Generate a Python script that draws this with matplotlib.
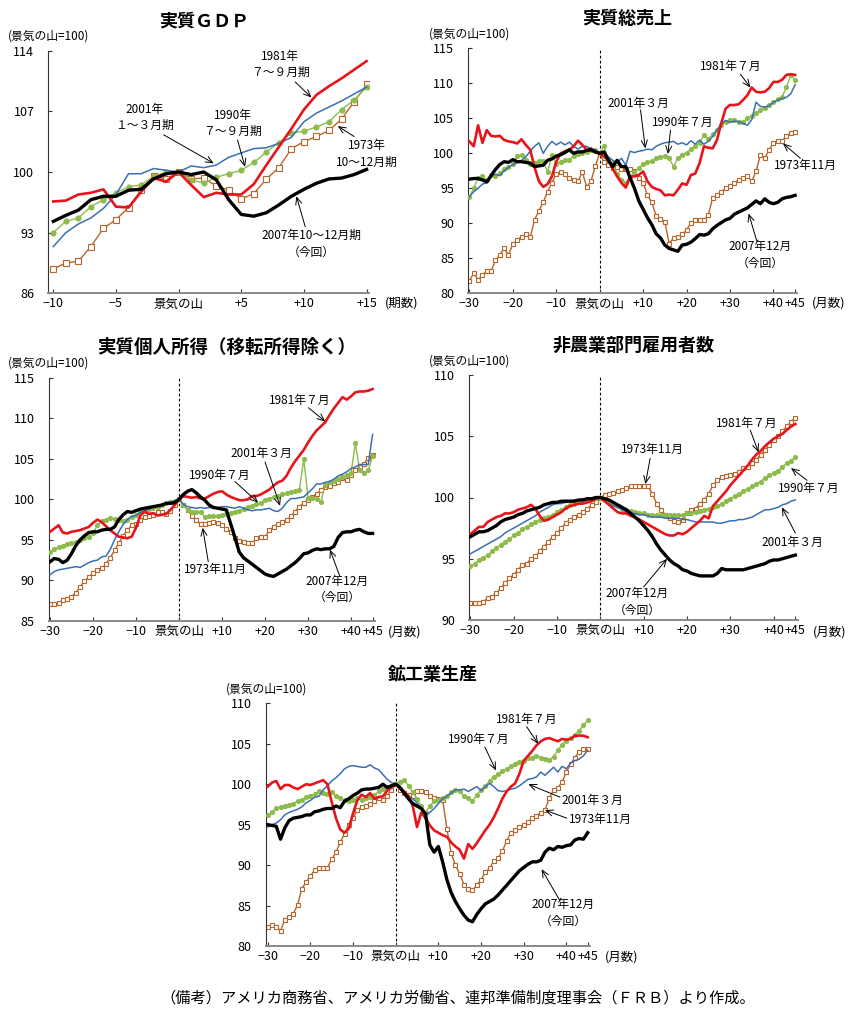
import matplotlib
matplotlib.use('Agg')
import matplotlib.pyplot as plt

plt.rcParams['font.family'] = ['Noto Sans CJK JP', 'DejaVu Sans']

# x axes: quarters for GDP, months for the rest (0 = business cycle peak)
quarters = list(range(-10, 16))
months = list(range(-30, 46))

# ---- real GDP (quarterly, peak = 100)
gdp_2007 = [94.3, 95.0, 95.6, 96.8, 97.2, 97.2, 97.9, 98.0, 99.2, 99.8, 100.0, 99.7, 100.0,
            99.1, 96.8, 95.1, 94.9, 95.3, 96.2, 97.2, 98.0, 98.7, 99.2, 99.3, 99.7, 100.3]
gdp_1981 = [96.6, 96.7, 97.4, 97.6, 98.0, 96.0, 95.9, 97.7, 99.3, 98.9, 100.0, 98.5, 97.1,
            97.6, 97.4, 97.4, 98.6, 100.8, 102.9, 105.0, 107.2, 108.9, 109.9, 110.8, 111.8, 112.8]
gdp_2001 = [91.4, 93.0, 94.0, 94.7, 95.8, 97.4, 99.8, 99.8, 100.4, 100.2, 100.0, 100.7, 100.5,
            100.8, 101.7, 102.2, 102.7, 102.8, 103.3, 104.0, 105.8, 106.8, 107.5, 108.2, 109.0, 109.8]
gdp_1990 = [93.0, 94.3, 94.7, 96.0, 96.8, 97.6, 98.3, 98.5, 99.5, 100.0, 100.0, 99.1, 98.7,
            99.4, 99.8, 100.2, 101.1, 102.3, 103.4, 104.5, 104.7, 105.2, 105.8, 107.2, 108.3, 109.8]
gdp_1973 = [88.8, 89.5, 89.7, 91.4, 93.5, 94.5, 95.9, 97.9, 99.5, 99.2, 100.0, 99.2, 99.3,
            98.4, 97.9, 96.9, 97.5, 99.2, 100.5, 102.7, 103.5, 104.1, 104.8, 106.1, 108.1, 110.1]

# ---- real total sales (monthly)
sales_2007 = [96.3, 96.4, 96.4, 96.2, 95.9, 96.8, 97.7, 98.4, 98.8, 98.7,
              99.1, 98.8, 98.8, 98.7, 98.6, 98.1, 98.2, 98.3, 99.0, 99.2,
              99.6, 99.8, 100.1, 100.5, 100.0, 100.2, 100.2, 100.4, 100.5, 100.2,
              100.0, 100.2, 99.0, 98.1, 99.0, 98.1, 98.1, 96.5, 95.0, 93.2,
              92.0, 90.8, 89.8, 88.5, 87.9, 86.9, 86.4, 86.2, 86.0, 86.9,
              87.0, 87.3, 87.8, 88.4, 88.3, 88.5, 89.2, 89.7, 90.1, 90.5,
              90.7, 91.3, 91.6, 91.9, 92.2, 92.7, 93.2, 92.8, 93.5, 93.0,
              92.8, 93.0, 93.5, 93.7, 93.8, 94.0]
sales_1981 = [101.7, 101.0, 104.0, 101.5, 103.3, 102.5, 102.4, 102.5, 101.9, 101.7,
              101.6, 101.4, 102.0, 101.2, 100.5, 98.0, 96.0, 95.2, 95.6, 96.7,
              98.8, 100.0, 100.3, 100.5, 101.0, 101.8, 101.2, 100.5, 100.7, 100.1,
              100.0, 99.5, 99.0, 97.8, 96.7, 95.8, 95.1, 96.7, 96.7, 96.9,
              97.4, 96.0, 95.2, 94.9, 94.7, 94.0, 94.1, 94.0, 94.8, 95.7,
              95.5, 96.9, 97.1, 98.6, 101.0, 100.8, 100.7, 101.9, 104.3, 106.4,
              106.9, 106.9, 107.0, 107.6, 108.3, 109.4, 108.8, 108.7, 108.8, 109.3,
              110.2, 110.2, 110.5, 111.2, 111.3, 111.2]
sales_2001 = [93.8, 94.5, 95.0, 95.6, 95.8, 96.8, 97.0, 96.8, 97.5, 98.0,
              98.4, 98.7, 99.0, 99.5, 100.3, 101.0, 101.5, 100.0, 101.0, 101.7,
              101.2, 101.6, 101.2, 101.6, 101.0, 100.6, 101.0, 101.0, 100.6, 100.5,
              100.0, 100.0, 99.5, 99.0, 98.6, 99.3, 98.3, 100.3, 100.1, 100.3,
              100.4, 100.6, 100.5, 101.0, 101.3, 101.5, 101.6, 101.7, 101.3, 101.5,
              101.2, 101.8, 101.3, 101.9, 101.3, 101.7, 102.4, 103.3, 104.2, 104.7,
              104.4, 104.6, 104.5, 104.3, 104.0, 104.8, 107.3, 106.7, 106.6, 106.8,
              107.3, 107.6, 107.8, 108.0, 108.5, 109.8]
sales_1990 = [93.8, 95.0, 96.5, 96.7, 96.2, 96.9, 96.8, 97.2, 97.7, 98.0,
              98.4, 99.6, 99.8, 99.0, 98.5, 98.6, 98.9, 98.9, 97.3, 99.7,
              98.5, 98.8, 99.0, 99.1, 99.6, 99.9, 100.0, 100.2, 100.5, 100.5,
              100.0, 101.0, 99.0, 98.6, 97.1, 96.2, 95.8, 96.6, 97.3, 97.9,
              98.5, 98.7, 98.9, 99.3, 99.5, 99.6, 99.3, 98.1, 99.3, 99.8,
              100.1, 100.6, 101.0, 101.5, 102.6, 102.1, 102.7, 103.3, 104.0, 104.5,
              104.8, 104.8, 104.5, 104.4, 105.0, 105.3, 105.7, 106.2, 106.5, 106.9,
              107.3, 107.7, 108.1, 109.4, 111.2, 110.5]
sales_1973 = [81.8, 82.9, 81.9, 82.6, 83.2, 83.2, 84.7, 85.5, 86.4, 85.5,
              87.0, 87.6, 88.1, 88.4, 88.0, 90.5, 91.8, 93.0, 94.5, 95.8,
              97.1, 97.3, 97.0, 96.4, 96.2, 96.0, 97.3, 95.2, 96.0, 98.2,
              100.0, 98.7, 98.3, 97.9, 98.0, 97.8, 97.8, 97.7, 97.5, 96.5,
              95.8, 94.0, 93.0, 91.0, 90.6, 90.2, 87.1, 87.9, 88.0, 88.5,
              89.0, 90.1, 90.4, 90.5, 90.4, 91.2, 93.6, 94.0, 94.5, 95.0,
              95.3, 95.8, 96.2, 96.5, 96.8, 96.0, 97.4, 99.8, 99.3, 100.5,
              101.5, 101.7, 101.7, 102.5, 102.9, 103.1]

# ---- real personal income excl. transfers (monthly)
income_2007 = [92.3, 92.7, 92.6, 92.2, 92.5, 93.3, 94.3, 95.0, 95.5, 95.9,
               96.0, 96.0, 96.2, 96.3, 96.3, 96.6, 97.5, 98.1, 98.5, 98.4,
               98.6, 98.8, 98.9, 99.0, 99.1, 99.2, 99.3, 99.5, 99.5, 99.6,
               100.0, 100.6, 101.0, 101.2, 100.8, 100.3, 99.9, 99.3, 99.0, 98.9,
               98.8, 98.7, 97.0, 95.3, 93.5, 92.8, 92.4, 92.0, 91.6, 91.2,
               90.8, 90.6, 90.5, 90.8, 91.1, 91.4, 91.8, 92.2, 92.7, 93.3,
               93.4, 93.7, 93.9, 93.8, 93.9, 93.9, 94.2, 95.3, 95.9, 96.0,
               96.0, 96.2, 96.3, 96.0, 95.8, 95.8]
income_1981 = [96.0, 96.4, 96.8, 95.9, 95.8, 96.0, 96.1, 96.2, 96.4, 96.6,
               97.1, 97.5, 97.2, 96.7, 96.2, 95.8, 95.4, 95.3, 95.2, 95.4,
               96.5, 98.0, 98.5, 98.2, 98.3, 98.0, 98.1, 98.2, 98.7, 99.3,
               100.0, 100.4, 100.3, 100.2, 100.3, 100.1, 100.1, 100.4, 100.7, 100.9,
               101.0, 100.6, 100.3, 100.1, 99.9, 99.9, 100.0, 100.4, 100.4, 100.6,
               100.9, 101.2, 101.7, 102.1, 102.3, 102.9, 103.9, 104.7, 105.4, 106.1,
               107.0, 107.8, 108.5, 109.0, 109.5, 110.4, 111.2, 111.9, 112.6, 112.3,
               112.7, 113.2, 113.3, 113.3, 113.4, 113.6]
income_2001 = [90.7, 91.1, 91.3, 91.4, 91.5, 91.6, 91.7, 91.6, 91.9, 92.2,
               92.4, 92.5, 92.9, 93.0, 93.8, 95.0, 96.0, 96.9, 97.5, 97.9,
               98.0, 98.4, 98.6, 98.8, 99.0, 99.2, 99.3, 99.5, 99.7, 99.8,
               100.0, 99.4, 99.1, 99.0, 98.9, 99.0, 98.9, 99.0, 98.9, 99.0,
               99.1, 99.1, 99.0, 98.9, 99.1, 98.9, 98.7, 98.6, 98.7, 98.7,
               98.8, 98.9, 98.6, 98.5, 98.9, 99.6, 100.1, 100.1, 100.2, 100.3,
               100.8, 101.3, 101.9, 101.9, 102.1, 102.2, 102.5, 102.9, 103.1, 103.4,
               103.8, 104.0, 104.3, 104.3, 104.3, 108.0]
income_1990 = [93.5, 93.9, 94.1, 94.3, 94.5, 94.6, 94.8, 95.0, 95.2, 95.4,
               95.8, 96.8, 97.3, 97.5, 97.7, 97.6, 97.4, 97.3, 97.5, 97.8,
               98.1, 98.4, 98.6, 98.8, 98.9, 99.1, 99.3, 99.6, 99.7, 99.8,
               100.0, 99.3, 98.7, 98.4, 98.5, 98.4, 97.8, 97.9, 97.9, 98.0,
               98.1, 98.2, 98.3, 98.5, 98.6, 98.8, 99.0, 99.2, 99.4, 99.6,
               99.9, 100.1, 100.3, 100.4, 100.6, 100.8, 100.9, 101.0, 101.2, 105.0,
               100.2, 100.2, 100.0, 99.7, 101.8, 102.1, 102.3, 102.5, 102.8, 103.0,
               103.3, 106.9, 103.6, 103.3, 103.6, 105.3]
income_1973 = [87.1, 87.1, 87.2, 87.6, 87.7, 88.0, 88.5, 89.2, 89.9, 90.4,
               90.9, 91.3, 91.5, 92.0, 92.8, 93.7, 94.6, 95.5, 96.2, 96.8,
               97.0, 97.5, 97.8, 98.0, 98.1, 98.4, 98.5, 98.2, 98.6, 99.3,
               100.0, 99.3, 98.7, 98.0, 97.5, 96.9, 97.0, 97.1, 97.2, 97.1,
               96.8, 96.4, 96.0, 95.2, 94.9, 94.7, 94.6, 94.6, 95.2, 95.3,
               95.3, 96.2, 96.6, 97.0, 97.2, 97.4, 97.9, 98.5, 99.1, 99.6,
               99.9, 100.3, 100.7, 101.1, 101.5, 101.6, 102.0, 102.2, 102.6, 102.4,
               103.0, 103.6, 104.0, 104.4, 105.1, 105.5]

# ---- nonfarm payroll employment (monthly)
emp_2007 = [96.8, 97.0, 97.2, 97.2, 97.3, 97.5, 97.7, 98.0, 98.2, 98.3,
            98.4, 98.6, 98.7, 98.9, 99.0, 99.1, 99.2, 99.4, 99.5, 99.6,
            99.6, 99.7, 99.7, 99.7, 99.7, 99.8, 99.8, 99.9, 99.9, 100.0,
            100.0, 99.9, 99.8, 99.6, 99.4, 99.2, 99.0, 98.7, 98.4, 98.1,
            97.7, 97.3, 96.8, 96.2, 95.7, 95.3, 94.9, 94.6, 94.4, 94.1,
            94.0, 93.8, 93.7, 93.6, 93.6, 93.6, 93.6, 93.8, 94.2, 94.1,
            94.1, 94.1, 94.1, 94.1, 94.2, 94.3, 94.4, 94.5, 94.6, 94.8,
            94.9, 94.9, 95.0, 95.1, 95.2, 95.3]
emp_1981 = [97.0, 97.3, 97.6, 97.6, 98.0, 98.2, 98.4, 98.5, 98.7, 98.7,
            98.8, 99.0, 99.1, 99.2, 99.4, 99.1, 98.5, 98.1, 98.2, 98.4,
            98.6, 98.8, 99.1, 99.3, 99.4, 99.5, 99.5, 99.6, 99.7, 99.9,
            100.0, 99.7, 99.4, 99.1, 98.8, 98.7, 98.7, 98.5, 98.4, 98.2,
            98.0, 97.8, 97.6, 97.4, 97.2, 97.0, 96.9, 96.9, 97.1, 97.0,
            97.2, 97.5, 97.8, 98.1, 98.5, 98.3, 99.3, 99.7, 100.1, 100.5,
            101.0, 101.4, 101.8, 102.2, 102.6, 103.1, 103.5, 103.8, 104.2, 104.5,
            104.8, 105.0, 105.2, 105.5, 105.8, 106.0]
emp_2001 = [95.4, 95.6, 95.8, 96.0, 96.2, 96.4, 96.6, 96.8, 97.1, 97.3,
            97.5, 97.7, 97.9, 98.1, 98.3, 98.5, 98.8, 99.0, 99.2, 99.4,
            99.5, 99.5, 99.6, 99.7, 99.8, 99.8, 99.9, 99.9, 99.9, 100.0,
            100.0, 99.7, 99.5, 99.3, 99.2, 99.0, 98.8, 98.7, 98.7, 98.6,
            98.6, 98.5, 98.4, 98.4, 98.4, 98.3, 98.3, 98.3, 98.3, 98.2,
            98.2, 98.1, 98.0, 98.0, 98.0, 98.0, 98.0, 97.9, 97.9, 98.0,
            98.1, 98.1, 98.2, 98.2, 98.3, 98.4, 98.6, 98.8, 99.0, 99.0,
            99.1, 99.2, 99.4, 99.5, 99.7, 99.8]
emp_1990 = [94.4, 94.6, 94.9, 95.1, 95.3, 95.6, 95.9, 96.1, 96.4, 96.6,
            96.9, 97.1, 97.4, 97.6, 97.8, 98.0, 98.2, 98.3, 98.4, 98.6,
            98.8, 99.0, 99.2, 99.4, 99.5, 99.7, 99.8, 99.9, 99.9, 100.0,
            100.0, 99.8, 99.7, 99.5, 99.3, 99.1, 99.0, 98.9, 98.8, 98.7,
            98.7, 98.6, 98.6, 98.6, 98.6, 98.6, 98.6, 98.6, 98.6, 98.6,
            98.7, 98.7, 98.8, 98.9, 99.0, 99.1, 99.2, 99.3, 99.5, 99.7,
            99.9, 100.1, 100.3, 100.5, 100.7, 100.9, 101.1, 101.3, 101.6, 101.8,
            102.0, 102.2, 102.5, 102.8, 103.0, 103.3]
emp_1973 = [91.35, 91.4, 91.4, 91.5, 91.8, 91.9, 92.2, 92.6, 93.0, 93.4,
            93.7, 94.1, 94.5, 94.6, 95.0, 95.2, 95.6, 96.0, 96.4, 96.8,
            97.1, 97.5, 97.9, 98.2, 98.4, 98.6, 98.8, 99.1, 99.4, 99.6,
            100.0, 100.2, 100.3, 100.4, 100.5, 100.6, 100.75, 100.9, 100.95, 100.95,
            100.95, 100.9, 100.3, 99.5, 99.0, 98.6, 98.3, 98.1, 98.0, 98.2,
            98.7, 99.0, 99.1, 99.5, 99.8, 100.3, 101.0, 101.4, 101.7, 101.75,
            101.8, 101.9, 102.1, 102.4, 102.5, 102.8, 103.1, 103.5, 103.9, 104.3,
            104.7, 105.0, 105.4, 105.8, 106.2, 106.5]

# ---- industrial production (monthly)
ip_2007 = [95.0, 94.9, 94.8, 93.2, 94.6, 95.5, 95.8, 95.9, 96.0, 96.2,
           96.2, 96.6, 96.7, 96.9, 97.0, 97.0, 97.3, 97.1, 97.9, 98.2,
           98.6, 98.9, 99.3, 99.4, 99.4, 99.5, 99.6, 100.0, 99.6, 99.8,
           100.0, 99.6, 98.9, 98.2, 97.6, 97.3, 97.0, 96.3, 92.5, 91.6,
           92.3, 90.4, 88.2, 86.6, 85.5, 84.6, 83.8, 83.2, 83.0, 83.9,
           84.6, 85.2, 85.5, 85.8, 86.3, 86.9, 87.5, 88.1, 88.7, 89.3,
           89.7, 90.1, 90.4, 90.4, 90.6, 91.6, 92.1, 91.9, 92.3, 92.2,
           92.4, 92.5, 93.1, 93.3, 93.2, 94.0]
ip_1981 = [99.7, 100.2, 100.4, 99.4, 99.9, 99.9, 99.6, 99.4, 99.7, 100.0,
           99.9, 100.1, 100.3, 100.5, 100.0, 97.8, 95.8, 94.4, 94.0, 94.5,
           96.4, 98.0, 98.7, 98.4, 98.9, 98.2, 98.4, 98.5, 99.2, 99.6,
           100.0, 99.5, 99.1, 98.5, 97.3, 94.7, 96.5, 95.8, 94.9, 94.3,
           94.0, 93.7, 93.5, 92.8, 92.3, 91.9, 90.8, 92.6, 92.0, 92.7,
           93.5, 94.3, 95.0, 95.9, 97.0, 98.2, 99.1, 99.7, 100.1, 101.3,
           102.9, 103.5, 104.1, 104.8, 105.3, 105.6, 105.7, 105.5, 105.3, 105.6,
           105.5, 105.6, 106.0, 106.0, 106.0, 105.8]
ip_2001 = [94.7, 95.0, 95.2, 95.6, 96.2, 96.5, 96.7, 96.9, 97.2, 97.7,
           98.0, 98.4, 98.5, 99.3, 99.8, 100.4, 100.8, 101.3, 101.9, 102.2,
           102.3, 102.2, 102.1, 102.1, 102.4, 102.0, 101.8, 101.2, 100.6, 100.2,
           100.0, 99.4, 99.0, 98.6, 98.2, 97.7, 97.0, 96.3, 96.5, 97.0,
           97.6, 98.2, 98.5, 98.9, 99.3, 99.3, 99.4, 99.1, 99.4, 99.7,
           99.2, 99.7, 100.1, 99.7, 99.2, 99.1, 99.2, 99.4, 99.5, 99.8,
           100.2, 100.6, 100.7, 100.9, 101.5, 101.1, 101.6, 102.1, 101.5, 102.2,
           101.9, 102.6, 102.9, 103.1, 103.5, 104.2]
ip_1990 = [96.2, 96.6, 97.0, 97.2, 97.3, 97.4, 97.6, 97.9, 98.1, 98.4,
           98.6, 98.8, 99.1, 98.9, 98.8, 99.0, 98.5, 98.3, 98.0, 97.9,
           98.1, 98.3, 98.1, 98.3, 98.4, 98.7, 99.1, 99.4, 99.6, 99.8,
           100.0, 100.3, 100.5, 99.8, 99.0, 98.2, 97.3, 96.5, 97.3, 97.9,
           98.1, 98.3, 98.6, 99.0, 99.3, 99.1, 98.6, 98.3, 97.9, 98.7,
           99.3, 99.8, 100.4, 100.9, 101.2, 101.6, 101.9, 102.2, 102.5, 102.8,
           102.9, 103.2, 103.3, 103.5, 103.3, 103.1, 103.0, 103.4, 104.2, 104.9,
           105.4, 105.7, 106.1, 106.6, 107.3, 107.9]
ip_1973 = [82.3, 82.6, 82.4, 81.9, 83.2, 83.6, 84.0, 85.1, 87.1, 87.9,
           88.6, 89.4, 89.6, 89.6, 89.7, 90.7, 91.6, 92.8, 93.9, 95.0,
           95.8, 96.8, 97.2, 97.3, 97.6, 97.9, 98.3, 98.0, 98.6, 99.3,
           100.0, 99.3, 98.9, 98.7, 98.5, 99.1, 99.1, 99.0, 98.5, 98.3,
           98.2, 98.1, 94.5, 91.5, 90.0, 88.9, 87.6, 87.0, 86.9, 87.5,
           88.2, 89.1, 89.6, 90.5, 90.9, 91.7, 93.0, 94.0, 94.3, 94.7,
           94.9, 95.3, 95.8, 96.1, 96.5, 96.8, 98.3, 99.3, 99.5, 100.3,
           101.5, 102.5, 103.3, 104.0, 104.3, 104.3]

month_ticks = [-30, -20, -10, 0, 10, 20, 30, 40, 45]
month_labels = ['−30', '−20', '−10', '景気の山', '+10', '+20', '+30', '+40', '+45']
quarter_ticks = [-10, -5, 0, 5, 10, 15]
quarter_labels = ['−10', '−5', '景気の山', '+5', '+10', '+15']

RED = '#e8141c'
BLUE = '#3b6fb3'
GREEN = '#8dbb4c'
BROWN = '#b8652a'

W, H = 854, 1016
fig = plt.figure(figsize=(W / 100, H / 100), dpi=100)


def box(left, top, right, bottom):
    # pixel box -> figure fraction [l, b, w, h]
    return [left / W, 1 - bottom / H, (right - left) / W, (bottom - top) / H]


def ftext(x, y, s, **kw):
    fig.text(x / W, 1 - y / H, s, **kw)


def draw(ax, x, s1973, s1990, s2001, s1981, s2007, big=False):
    sq = 3.8 if big else 3.0
    dot = 3.4 if big else 2.7
    ax.plot(x, s1973, color=BROWN, lw=1.0, marker='s', ms=sq, mfc='white',
            mec=BROWN, mew=0.8, zorder=2)
    ax.plot(x, s1990, color=GREEN, lw=1.0, marker='o', ms=dot, mfc=GREEN,
            mec=GREEN, zorder=3)
    ax.plot(x, s2001, color=BLUE, lw=1.1, zorder=4)
    ax.plot(x, s1981, color=RED, lw=1.9, zorder=5)
    ax.plot(x, s2007, color='black', lw=2.4, zorder=6)


def style(ax, xlim, ylim, yticks, xticks, xlabels, peak_line=True):
    ax.set_xlim(xlim)
    ax.set_ylim(ylim)
    ax.set_yticks(yticks)
    ax.set_xticks(xticks)
    ax.set_xticklabels(xlabels)
    ax.spines['top'].set_visible(False)
    ax.spines['right'].set_visible(False)
    ax.spines['left'].set_color('#333333')
    ax.spines['bottom'].set_color('#8a8a8a')
    ax.spines['bottom'].set_linewidth(1.4)
    ax.tick_params(direction='in', length=3, labelsize=9, color='#333333')
    ax.tick_params(axis='y', pad=10)
    ax.tick_params(axis='x', pad=3)
    if peak_line:
        ax.axvline(0, color='black', lw=0.8, ls=(0, (2.5, 2)), zorder=1)


def note(ax, text, tx, ty, x0, y0, x1, y1, ha='center'):
    ax.text(tx, ty, text, ha=ha, va='center', fontsize=8.5, linespacing=1.35,
            multialignment='center', zorder=10)
    ax.annotate('', xy=(x1, y1), xytext=(x0, y0),
                arrowprops=dict(arrowstyle='->,head_length=0.5,head_width=0.22',
                                lw=0.7, color='black', shrinkA=0, shrinkB=0),
                zorder=10)


# ---------------- real GDP
ax1 = fig.add_axes(box(48.3, 50.7, 369.1, 293.3))
draw(ax1, quarters, gdp_1973, gdp_1990, gdp_2001, gdp_1981, gdp_2007, big=True)
style(ax1, (-10.4, 15.2), (86, 114), [86, 93, 100, 107, 114],
      quarter_ticks, quarter_labels, peak_line=False)
note(ax1, '1981年\n７～９月期', 8.1, 112.4, 9.3, 110.4, 10.6, 108.6)
note(ax1, '2001年\n１～３月期', -2.7, 106.3, -1.2, 104.3, 2.8, 101.0)
note(ax1, '1990年\n７～９月期', 4.3, 105.6, 4.7, 103.7, 5.3, 100.6)
note(ax1, '1973年\n10～12月期', 15.0, 102.1, 14.0, 104.1, 12.7, 105.3)
note(ax1, '2007年10～12月期\n（今回）', 10.6, 91.7, 10.1, 93.7, 9.4, 97.2)
ftext(204, 21, '実質ＧＤＰ', ha='center', va='center', fontsize=13, fontweight='bold')
ftext(8, 36, '(景気の山=100)', ha='left', va='center', fontsize=8.5)
ftext(385, 303, '(期数)', ha='left', va='center', fontsize=9)

# ---------------- real total sales
ax2 = fig.add_axes(box(468.1, 48.3, 797.3, 293.3))
draw(ax2, months, sales_1973, sales_1990, sales_2001, sales_1981, sales_2007)
style(ax2, (-30.3, 45.5), (80, 115), [80, 85, 90, 95, 100, 105, 110, 115],
      month_ticks, month_labels)
note(ax2, '1981年７月', 30.1, 112.4, 32.4, 111.3, 34.7, 109.4)
note(ax2, '2001年３月', 9.0, 107.1, 9.4, 106.2, 10.5, 100.7)
note(ax2, '1990年７月', 19.0, 104.4, 16.3, 103.3, 15.7, 99.9)
note(ax2, '1973年11月', 47.3, 98.2, 46.2, 99.3, 42.2, 101.4)
note(ax2, '2007年12月\n（今回）', 37.0, 85.5, 36.2, 87.4, 34.3, 91.4)
ftext(627, 18, '実質総売上', ha='center', va='center', fontsize=13, fontweight='bold')
ftext(429, 34, '(景気の山=100)', ha='left', va='center', fontsize=8.5)
ftext(812, 303, '(月数)', ha='left', va='center', fontsize=9)

# ---------------- real personal income
ax3 = fig.add_axes(box(48.7, 377.7, 374.7, 621))
draw(ax3, months, income_1973, income_1990, income_2001, income_1981, income_2007)
style(ax3, (-30.3, 45.5), (85, 115), [85, 90, 95, 100, 105, 110, 115],
      month_ticks, month_labels)
note(ax3, '1981年７月', 28.1, 112.2, 30.1, 111.3, 34.0, 109.6)
note(ax3, '2001年３月', 19.2, 105.6, 20.0, 104.6, 23.5, 99.2)
note(ax3, '1990年７月', 9.5, 102.9, 13.0, 102.2, 18.4, 99.6)
note(ax3, '1973年11月', 8.4, 91.4, 6.8, 92.3, 5.5, 96.5)
note(ax3, '2007年12月\n（今回）', 36.7, 88.9, 37.4, 90.5, 35.1, 93.8)
ftext(227, 347, '実質個人所得（移転所得除く）', ha='center', va='center',
      fontsize=13.3, fontweight='bold')
ftext(8, 363, '(景気の山=100)', ha='left', va='center', fontsize=8.5)
ftext(388, 632, '(月数)', ha='left', va='center', fontsize=9)

# ---------------- nonfarm payroll employment
ax4 = fig.add_axes(box(469.0, 375, 797.5, 620))
draw(ax4, months, emp_1973, emp_1990, emp_2001, emp_1981, emp_2007)
style(ax4, (-30.3, 45.5), (90, 110), [90, 95, 100, 105, 110],
      month_ticks, month_labels)
note(ax4, '1981年７月', 33.7, 106.05, 34.6, 105.5, 36.5, 103.7)
note(ax4, '1973年11月', 11.9, 103.9, 11.5, 103.2, 10.4, 101.1)
note(ax4, '1990年７月', 48.1, 100.75, 47.7, 101.4, 44.0, 102.4)
note(ax4, '2001年３月', 44.2, 96.3, 45.0, 97.1, 41.9, 99.2)
note(ax4, '2007年12月\n（今回）', 8.5, 91.5, 10.0, 92.7, 15.4, 95.0)
ftext(634, 345, '非農業部門雇用者数', ha='center', va='center', fontsize=13,
      fontweight='bold')
ftext(429, 361, '(景気の山=100)', ha='left', va='center', fontsize=8.5)
ftext(813, 632, '(月数)', ha='left', va='center', fontsize=9)

# ---------------- industrial production
ax5 = fig.add_axes(box(265.6, 703.3, 589.8, 946))
draw(ax5, months, ip_1973, ip_1990, ip_2001, ip_1981, ip_2007)
style(ax5, (-30.5, 45.5), (80, 110), [80, 85, 90, 95, 100, 105, 110],
      month_ticks, month_labels)
note(ax5, '1981年７月', 30.7, 108.0, 30.7, 107.1, 33.4, 105.0)
note(ax5, '1990年７月', 19.4, 105.5, 20.9, 104.6, 23.5, 101.7)
note(ax5, '2001年３月', 38.9, 98.05, 38.5, 98.4, 31.1, 100.0, ha='left')
note(ax5, '1973年11月', 40.5, 95.7, 40.1, 95.8, 35.0, 96.8, ha='left')
note(ax5, '2007年12月\n（今回）', 39.3, 84.1, 38.5, 85.6, 34.2, 89.5)
ftext(433, 674, '鉱工業生産', ha='center', va='center', fontsize=13, fontweight='bold')
ftext(226, 689, '(景気の山=100)', ha='left', va='center', fontsize=8.5)
ftext(605, 957, '(月数)', ha='left', va='center', fontsize=9)

# footnote
ftext(458, 998, '（備考）アメリカ商務省、アメリカ労働省、連邦準備制度理事会（ＦＲＢ）より作成。',
      ha='center', va='center', fontsize=11)

fig.savefig('out.png', dpi=100)
